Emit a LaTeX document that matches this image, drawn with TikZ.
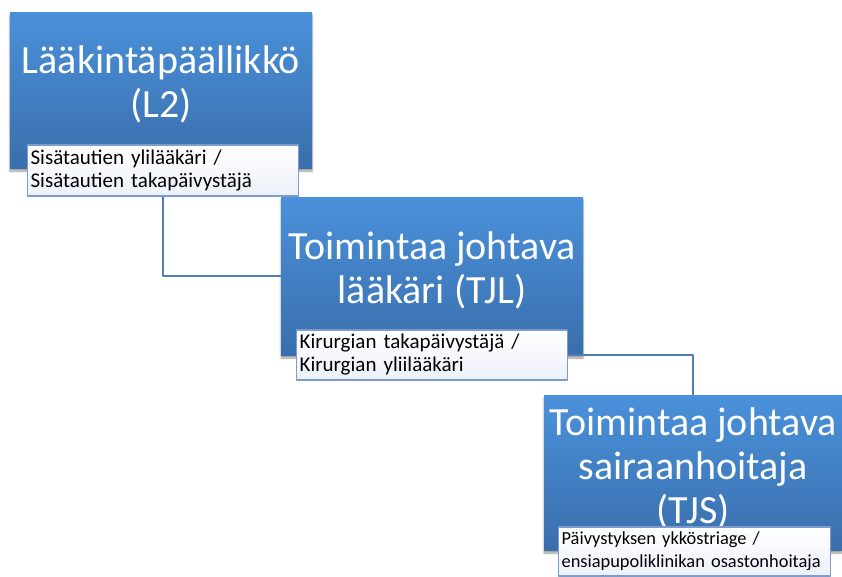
\documentclass[tikz,border=0pt]{standalone}
\usepackage{fontspec}
\setmainfont{Carlito}
\usetikzlibrary{shadows.blur}
\hyphenpenalty=10000
\definecolor{boxtop}{RGB}{74,145,218}
\definecolor{boxbot}{RGB}{58,110,172}
\definecolor{subfill}{RGB}{236,241,249}
\definecolor{subline}{RGB}{125,155,205}
\definecolor{linkcol}{RGB}{80,125,185}
\tikzset{
  rolebox/.style={rectangle,top color=boxtop,bottom color=boxbot,draw=none,
    blur shadow={shadow xshift=0pt,shadow yshift=-3pt,shadow blur steps=6,shadow opacity=40}},
  roletext/.style={text=white,align=center,font=\fontsize{40}{44}\selectfont,inner sep=0pt},
  namebox/.style={rectangle,draw=subline,line width=1.2pt,top color=white,bottom color=subfill,
    align=left,font=\fontsize{21}{23}\selectfont,inner xsep=3pt,inner ysep=2pt,anchor=west},
  link/.style={draw=linkcol,line width=1.3pt}
}
\begin{document}
\begin{tikzpicture}[x=1pt,y=-1pt,line join=round]
\useasboundingbox (0,0) rectangle (842,576);
% roles
\node[rolebox,minimum width=302,minimum height=156] (l2) at (161,90) {};
\node[rolebox,minimum width=302,minimum height=158] (tjl) at (432,276) {};
\node[rolebox,minimum width=298,minimum height=155] (tjs) at (693,472.5) {};
\node[roletext] (l2txt) at ([yshift=6pt]l2.center) {Lääkintäpäällikkö\\(L2)};
\node[roletext] (tjltxt) at ([yshift=6pt]tjl.center) {Toimintaa johtava\\lääkäri (TJL)};
\node[roletext] (tjstxt) at ([yshift=4pt]tjs.center) {Toimintaa johtava\\sairaanhoitaja\\(TJS)};
% who holds the role
\node[namebox,text width=265,minimum height=51] (l2who) at (27,170.5) {Sisätautien ylilääkäri /\\Sisätautien takapäivystäjä};
\node[namebox,text width=265,minimum height=50] (tjlwho) at (296,355) {Kirurgian takapäivystäjä /\\Kirurgian yliilääkäri};
\node[namebox,text width=266,minimum height=49,font=\fontsize{18.4}{23}\selectfont] (tjswho) at (558,551.5) {Päivystyksen ykköstriage /\\ensiapupoliklinikan osastonhoitaja};
% links
\draw[link] (l2who.south) |- (tjl.west);
\draw[link] (tjlwho.east) -| (tjs.north);
\end{tikzpicture}
\end{document}
